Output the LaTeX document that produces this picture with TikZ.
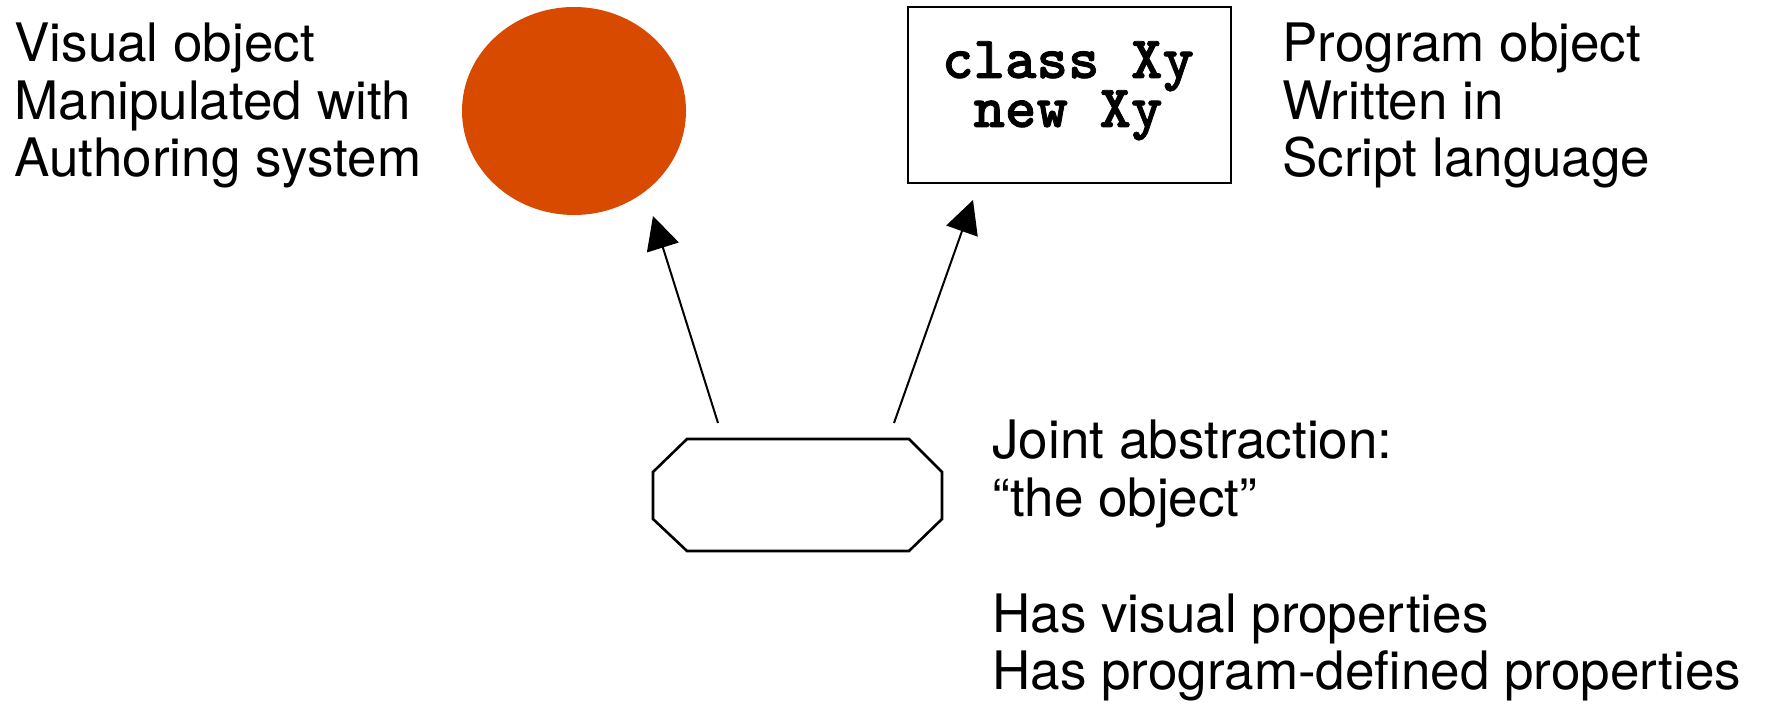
\documentclass[tikz,border=0pt]{standalone}
\usepackage{fontspec}
\setmainfont{TeX Gyre Heros}
\newfontfamily\codefam{lmmonolt10-bold.otf}[FakeBold=1.3]
\usetikzlibrary{arrows.meta,shapes.geometric}
\definecolor{blob}{RGB}{216,74,0}
\newcommand\mycodefont{\codefam\fontsize{30pt}{24.5pt}\selectfont\lineskiplimit=-50pt\relax}
\tikzset{
  lbl/.style={anchor=base west,inner sep=0pt,align=left,font=\fontsize{26.5pt}{28.9pt}\selectfont},
  code/.style={inner sep=0pt,align=center,font=\mycodefont},
  arr/.style={line width=1pt,-{Triangle[length=16.5pt,width=16.5pt]}},
  outline/.style={draw,line width=1.3pt},
}
\begin{document}
\begin{tikzpicture}[x=0.5pt,y=-0.5pt]
\useasboundingbox (0,0) rectangle (1767,704);
% visual object
\node[ellipse,fill=blob,minimum width=112pt,minimum height=104pt,inner sep=0pt] (vis) at (574,111) {};
% program object
\node[outline,minimum width=161.5pt,minimum height=88pt,inner sep=0pt] (prog) at (1069.5,95) {};
\node[code,anchor=base] (codetxt) at (1068,127) {class Xy\\new Xy};
% joint abstraction (octagon)
\draw[outline,line join=miter] (653,472) -- (687,439) -- (909,439) -- (942,472) -- (942,519) -- (909,551) -- (687,551) -- (653,519) -- cycle;
% texts
\node[lbl] (t1) at (14,177) {Visual object\\Manipulated with\\Authoring system};
\node[lbl] (t2) at (1282,177) {Program object\\Written in\\Script language};
\node[lbl] (t3) at (992,690) {Joint abstraction:\\“the object”\\[28.9pt]Has visual properties\\Has program-defined properties};
% arrows
\coordinate (s1) at (718,423);
\coordinate (e1) at (653,216);
\coordinate (s2) at (894,423);
\coordinate (e2) at (973,200);
\draw[arr] (s1) -- (e1);
\draw[arr] (s2) -- (e2);
\end{tikzpicture}
\end{document}
